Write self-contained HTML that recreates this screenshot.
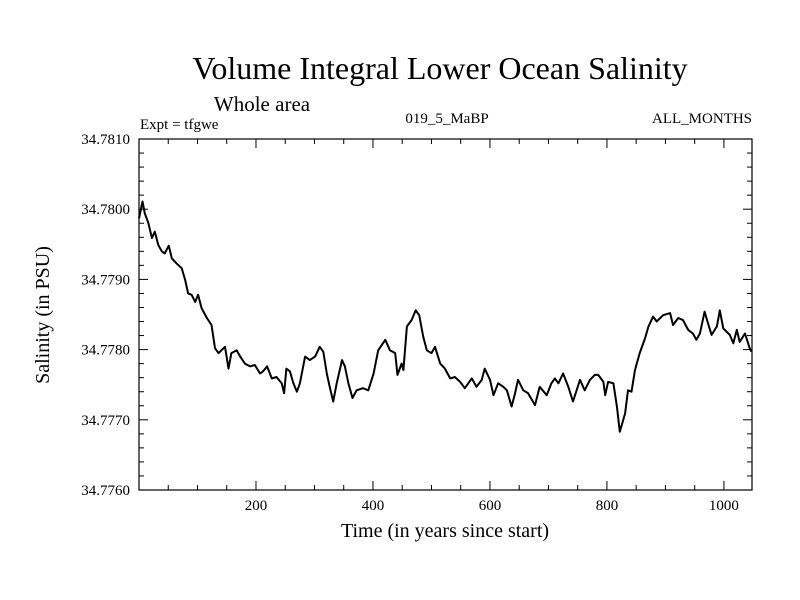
<!DOCTYPE html>
<html><head><meta charset="utf-8"><style>
html,body{margin:0;padding:0;background:#fff;}
svg{display:block;}
.serif{font-family:"Liberation Serif",serif;}
.sans{font-family:"Liberation Sans",sans-serif;}
</style></head><body>
<svg id="chart" width="800" height="600" viewBox="0 0 800 600" xmlns="http://www.w3.org/2000/svg">
<text class="serif" x="440" y="79" font-size="32" text-anchor="middle">Volume Integral Lower Ocean Salinity</text>
<text class="serif" x="262" y="111" font-size="21" text-anchor="middle">Whole area</text>
<text class="serif" x="140" y="129" font-size="15">Expt = tfgwe</text>
<text class="serif" x="447" y="123" font-size="15" text-anchor="middle">019_5_MaBP</text>
<text class="serif" x="752" y="123" font-size="15" text-anchor="end">ALL_MONTHS</text>
<text class="serif" x="445" y="537" font-size="20" text-anchor="middle">Time (in years since start)</text>
<text class="serif" x="0" y="0" font-size="20" text-anchor="middle" transform="translate(49,315) rotate(-90)">Salinity (in PSU)</text>
<g id="axes"></g>
<rect x="139" y="139" width="613" height="351" fill="none" stroke="#000" stroke-width="1.2"/>
<g id="series"></g>
</svg>
<script>
const years=[0,6,10,16,22,27,33,39,44,51,56,64,73,79,84,90,96,101,107,116,124,130,136,147,153,158,167,173,181,190,198,207,212,219,227,235,244,248,252,258,264,270,275,284,292,301,309,315,321,326,332,338,347,352,358,365,372,383,392,401,409,421,429,438,442,449,452,458,466,473,479,486,492,500,506,515,523,532,540,549,557,569,577,586,591,600,606,614,623,629,637,643,648,657,665,677,685,697,705,711,717,725,734,742,754,762,771,779,785,794,797,802,811,817,822,831,836,842,848,856,865,871,879,885,896,908,913,922,930,939,947,953,959,967,973,979,988,993,999,1010,1016,1022,1027,1036,1044,1047];
const salinity=[34.77987,34.78011,34.77994,34.77980,34.77959,34.77968,34.77949,34.77940,34.77937,34.77948,34.77930,34.77923,34.77916,34.77899,34.77880,34.77878,34.77868,34.77878,34.77859,34.77845,34.77835,34.77802,34.77795,34.77804,34.77773,34.77795,34.77799,34.77790,34.77780,34.77776,34.77778,34.77766,34.77769,34.77776,34.77759,34.77761,34.77752,34.77738,34.77773,34.77769,34.77752,34.77740,34.77752,34.77790,34.77785,34.77790,34.77804,34.77797,34.77766,34.77747,34.77726,34.77752,34.77785,34.77776,34.77752,34.77731,34.77742,34.77745,34.77742,34.77766,34.77799,34.77814,34.77799,34.77795,34.77764,34.77780,34.77771,34.77833,34.77842,34.77856,34.77849,34.77818,34.77799,34.77795,34.77804,34.77780,34.77773,34.77759,34.77761,34.77754,34.77745,34.77759,34.77747,34.77757,34.77773,34.77757,34.77735,34.77752,34.77747,34.77742,34.77719,34.77738,34.77757,34.77742,34.77738,34.77721,34.77747,34.77735,34.77752,34.77759,34.77752,34.77766,34.77747,34.77726,34.77757,34.77742,34.77757,34.77764,34.77764,34.77754,34.77735,34.77754,34.77752,34.77719,34.77683,34.77709,34.77742,34.77740,34.77771,34.77795,34.77816,34.77833,34.77847,34.77840,34.77849,34.77852,34.77835,34.77845,34.77842,34.77828,34.77823,34.77814,34.77823,34.77854,34.77837,34.77821,34.77833,34.77856,34.77830,34.77821,34.77809,34.77828,34.77811,34.77823,34.77802,34.77797];
const xTicks=[200,400,600,800,1000];
const yTicks=["34.7760","34.7770","34.7780","34.7790","34.7800","34.7810"];

const L=139,R=752,T=139,B=490;
const xMin=0,xMax=1048,yMin=34.7760,yMax=34.7810;
const sx=v=>L+(v-xMin)/(xMax-xMin)*(R-L);
const sy=v=>B-(v-yMin)/(yMax-yMin)*(B-T);
const NS="http://www.w3.org/2000/svg";
const axes=document.getElementById('axes');
function line(x1,y1,x2,y2){const l=document.createElementNS(NS,'line');l.setAttribute('x1',x1);l.setAttribute('y1',y1);l.setAttribute('x2',x2);l.setAttribute('y2',y2);l.setAttribute('stroke','#000');l.setAttribute('stroke-width','1');return l;}
for(let v=50;v<xMax;v+=50){const x=sx(v);const len=(v%200===0)?9:5;
 const t1=line(x,B,x,B-len);
 
 
 axes.appendChild(t1);
 const t2=line(x,T,x,T+len);
 
 
 axes.appendChild(t2);}
xTicks.forEach(v=>{const t=document.createElementNS(NS,'text');t.setAttribute('x',sx(v));t.setAttribute('y',B+20);t.setAttribute('text-anchor','middle');t.setAttribute('font-size','15');t.setAttribute('class','serif');t.textContent=v;
 
 
 axes.appendChild(t);});
for(let i=1;i<25;i++){const v=yMin+i*0.0002;const y=sy(v);const len=(i%5===0)?9:5;
 const t1=line(L,y,L+len,y);
 
 
 axes.appendChild(t1);
 const t2=line(R,y,R-len,y);
 
 
 axes.appendChild(t2);}
yTicks.forEach(s=>{const t=document.createElementNS(NS,'text');t.setAttribute('x',130);t.setAttribute('y',sy(parseFloat(s))+5);t.setAttribute('text-anchor','end');t.setAttribute('font-size','15');t.setAttribute('class','serif');t.textContent=s;
 
 
 axes.appendChild(t);});
const p=document.createElementNS(NS,'polyline');
p.setAttribute('points',years.map((y,i)=>sx(y).toFixed(1)+','+sy(salinity[i]).toFixed(1)).join(' '));
p.setAttribute('fill','none');p.setAttribute('stroke','#000');p.setAttribute('stroke-width','2');p.setAttribute('stroke-linejoin','round');


document.getElementById('series').appendChild(p);
</script>
</body></html>
